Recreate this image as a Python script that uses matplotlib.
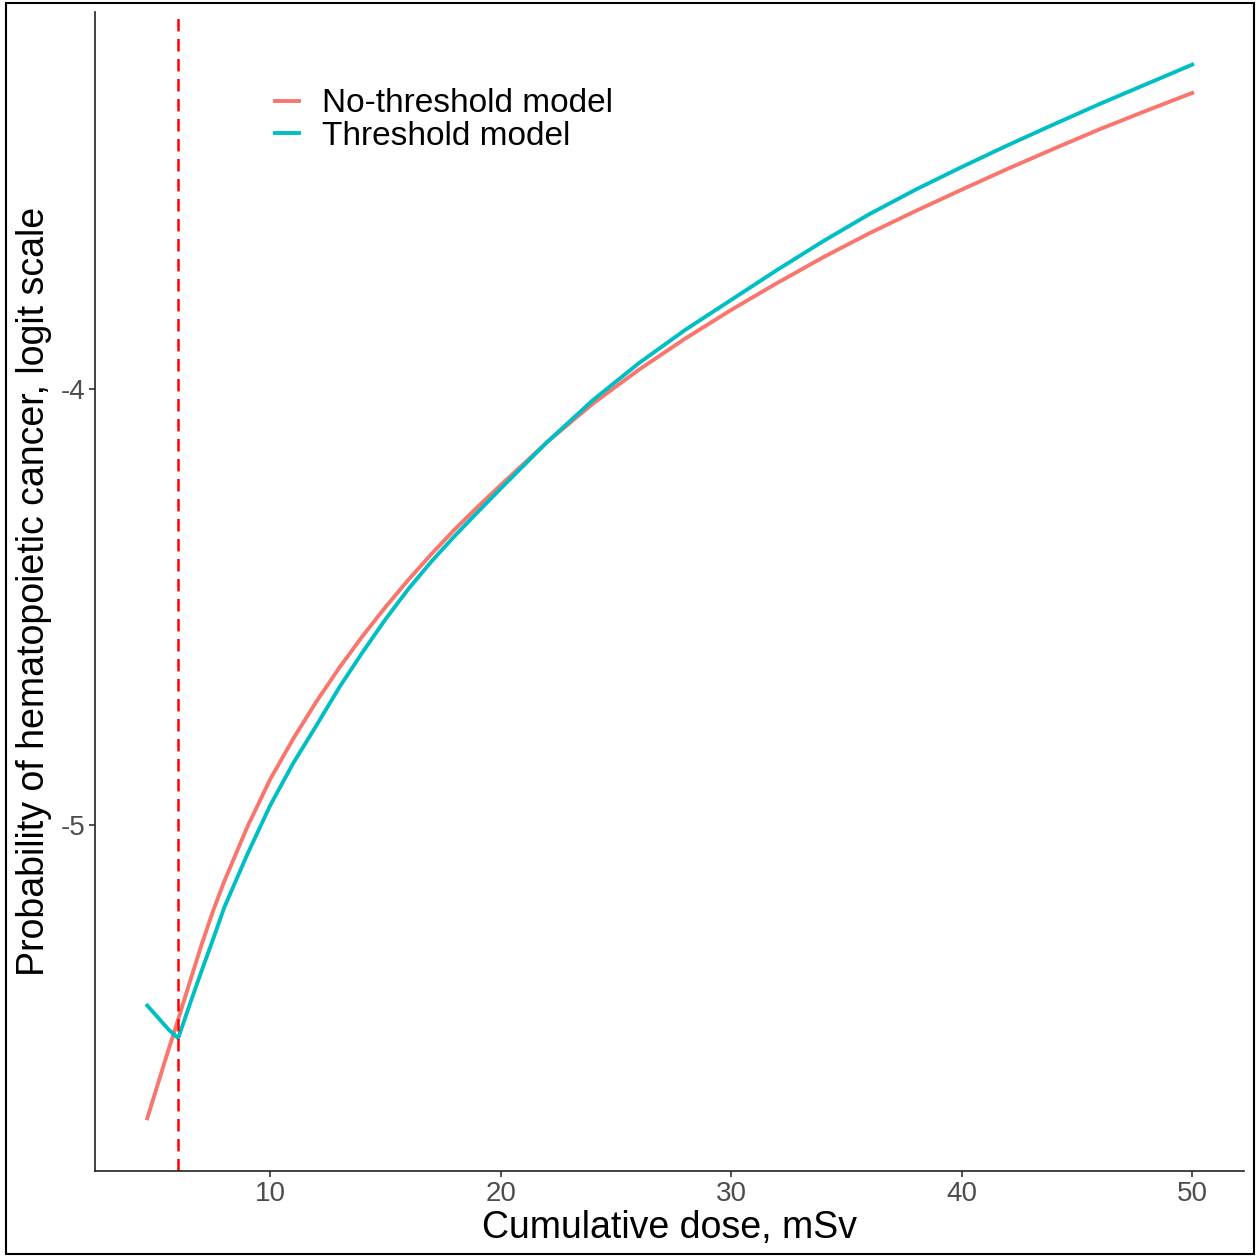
import numpy as np
import matplotlib.pyplot as plt
from matplotlib.patches import Rectangle

plt.rcParams['font.family'] = ['Liberation Sans', 'DejaVu Sans']
plt.rcParams['axes.unicode_minus'] = False

# dose (mSv) and logit probability
dose_nt = [4.66, 5.5, 6, 6.5, 7, 7.5, 8, 9, 10, 11, 12, 13, 14, 15, 16, 17, 18, 19,
           20, 22, 24, 26, 28, 30, 32, 34, 36, 38, 40, 42, 44, 46, 48, 50]
no_threshold = [-5.674, -5.530, -5.447, -5.362, -5.278, -5.200, -5.130, -5.005, -4.895,
                -4.802, -4.717, -4.639, -4.567, -4.500, -4.437, -4.378, -4.322, -4.270,
                -4.220, -4.122, -4.033, -3.955, -3.884, -3.818, -3.756, -3.697, -3.642,
                -3.591, -3.542, -3.494, -3.448, -3.403, -3.361, -3.320]

dose_t = [4.66, 5.6, 6, 6.5, 7, 7.5, 8, 9, 10, 11, 12, 13, 14, 15, 16, 17, 18, 19,
          20, 22, 24, 26, 28, 30, 32, 34, 36, 38, 40, 42, 44, 46, 48, 50]
threshold = [-5.415, -5.471, -5.490, -5.413, -5.338, -5.265, -5.190, -5.068, -4.955,
             -4.858, -4.772, -4.684, -4.604, -4.528, -4.458, -4.395, -4.337, -4.282,
             -4.228, -4.122, -4.025, -3.940, -3.864, -3.795, -3.726, -3.660, -3.598,
             -3.542, -3.490, -3.440, -3.392, -3.345, -3.300, -3.255]

threshold_dose = 6
x_ticks = [10, 20, 30, 40, 50]
y_ticks = [-4, -5]

fig = plt.figure(figsize=(12.57, 12.57), dpi=100)
ax = fig.add_axes([0.0756, 0.0684, 0.9144, 0.9221])

ax.plot(dose_nt, no_threshold, color='#F8766D', lw=2.8, label='No-threshold model')
ax.plot(dose_t, threshold, color='#00BFC4', lw=2.8, label='Threshold model')
ax.axvline(threshold_dose, color='#FF0000', lw=1.8, dashes=(5, 3))

# ggplot-like 5% expansion
x0, x1 = min(dose_nt + dose_t), max(dose_nt + dose_t)
allv = no_threshold + threshold
y0, y1 = min(allv), max(allv)
ax.set_xlim(x0 - 0.05 * (x1 - x0), x1 + 0.05 * (x1 - x0))
ax.set_ylim(y0 - 0.05 * (y1 - y0), y1 + 0.05 * (y1 - y0))

ax.set_xticks(x_ticks)
ax.set_yticks(y_ticks)
ax.tick_params(labelsize=20, labelcolor='#4D4D4D', color='#333333',
               length=4, width=1.2, pad=3)
for s in ['top', 'right']:
    ax.spines[s].set_visible(False)
for s in ['left', 'bottom']:
    ax.spines[s].set_linewidth(1.2)
    ax.spines[s].set_color('#222222')

ax.set_xlabel('Cumulative dose, mSv', fontsize=27, labelpad=2)
ax.set_ylabel('Probability of hematopoietic cancer, logit scale', fontsize=27, labelpad=6)

ax.legend(loc='upper left', bbox_to_anchor=(0.157, 0.934), frameon=False,
          fontsize=24, handlelength=0.7, handletextpad=0.7, labelspacing=0.05,
          borderpad=0, borderaxespad=0)

fig.patches.append(Rectangle((0.005, 0.002), 0.993, 0.996, transform=fig.transFigure,
                             fill=False, edgecolor='black', lw=1.5))

fig.savefig('out.png', dpi=100)
